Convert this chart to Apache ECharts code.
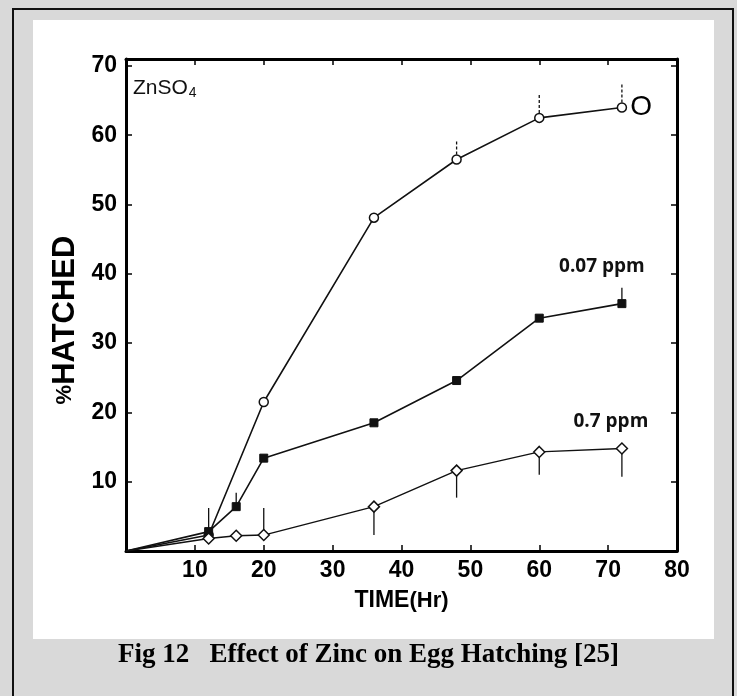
<!DOCTYPE html>
<html>
<head>
<meta charset="utf-8">
<script src="https://cdn.jsdelivr.net/npm/echarts@6/dist/echarts.min.js"></script>
<style>
  html, body { margin: 0; padding: 0; background: #d9d9d9; }
  #chart { width: 737px; height: 696px; }
</style>
</head>
<body>
<div id="chart"></div>
<script>
// hours after exposure
const timesControl = [0, 12, 20, 36, 48, 60, 72];
const timesDosed = [0, 12, 16, 20, 36, 48, 60, 72];

// % hatched
const valuesControl = [0, 2.3, 21.5, 48.1, 56.5, 62.5, 64.0];
const values007 = [0, 2.8, 6.4, 13.4, 18.5, 24.6, 33.6, 35.7];
const values07 = [0, 1.8, 2.2, 2.3, 6.4, 11.6, 14.3, 14.8];

// error bars: [time, low, high]
const errorsControlSolid = [[12, 2.3, 6.2]];
const errorsControlDotted = [[48, 56.5, 59.1], [60, 62.5, 66.1], [72, 64.0, 67.6]];
const errors007 = [[16, 6.4, 8.4], [72, 35.7, 38.0]];
const errors07 = [[20, 2.3, 6.2], [36, 2.3, 6.4], [48, 7.7, 11.6], [60, 11.0, 14.3], [72, 10.7, 14.8]];

const seriesNames = ["O", "0.07 ppm", "0.7 ppm"];

const chart = echarts.init(document.getElementById("chart"));

const AXIS_FONT = "Liberation Sans";

const toPoints = (times, values, label) =>
  times.map((t, i) => {
    const item = { value: [t, values[i]] };
    if (i === 0) item.symbol = "none";
    if (label && i === times.length - 1) item.label = label;
    return item;
  });

const errorSeries = (data, dashed) => ({
  type: "custom",
  silent: true,
  z: 1,
  data: data,
  encode: { x: 0, y: [1, 2] },
  renderItem: (params, api) => {
    const lo = api.coord([api.value(0), api.value(1)]);
    const hi = api.coord([api.value(0), api.value(2)]);
    return {
      type: "line",
      shape: { x1: lo[0], y1: lo[1], x2: hi[0], y2: hi[1] },
      style: { stroke: "#111", lineWidth: 1.3, lineDash: dashed ? [3, 2] : null },
    };
  },
});

const boxAxis = {
  min: 0,
  interval: 10,
  axisLine: { show: true, onZero: false, lineStyle: { color: "#000", width: 3 } },
  axisTick: { show: true, inside: true, length: 6, lineStyle: { color: "#000", width: 1.5 } },
  splitLine: { show: false },
};

chart.setOption({
  animation: false,
  backgroundColor: "#d9d9d9",
  graphic: [
    {
      type: "rect",
      z: -100,
      shape: { x: 13, y: 9, width: 720, height: 700 },
      style: { fill: "#d9d9d9", stroke: "#111", lineWidth: 2 },
    },
    {
      type: "rect",
      z: -90,
      shape: { x: 33, y: 20, width: 681, height: 619 },
      style: { fill: "#fff" },
    },
    {
      type: "text",
      left: 133,
      top: 78,
      style: {
        text: "ZnSO{s|4}",
        fill: "#111",
        font: "21px " + AXIS_FONT,
        rich: { s: { fontSize: 14, fontFamily: AXIS_FONT, padding: [10, 0, 0, 1] } },
      },
    },
    {
      type: "text",
      left: "center",
      top: 642,
      style: {
        text: "Fig 12   Effect of Zinc on Egg Hatching [25]",
        fill: "#000",
        font: "bold 27px 'Liberation Serif'",
      },
    },
  ],
  grid: { left: 126, right: 60, top: 59, bottom: 145 },
  xAxis: [
    {
      ...boxAxis,
      type: "value",
      max: 80,
      position: "bottom",
      name: "TIME{h|(Hr)}",
      nameLocation: "middle",
      nameGap: 38,
      nameTextStyle: {
        color: "#000",
        fontFamily: AXIS_FONT,
        fontWeight: "bold",
        fontSize: 23,
        rich: { h: { fontFamily: AXIS_FONT, fontSize: 22, color: "#000" } },
      },
      axisLabel: {
        color: "#000",
        fontFamily: AXIS_FONT,
        fontWeight: "bold",
        fontSize: 23,
        margin: 8,
        formatter: (v) => (v > 0 && v % 10 === 0 ? String(v) : ""),
      },
    },
    {
      ...boxAxis,
      type: "value",
      max: 80,
      position: "top",
      axisLabel: { show: false },
    },
  ],
  yAxis: [
    {
      ...boxAxis,
      type: "value",
      max: 71,
      position: "left",
      name: "{p|%}HATCHED",
      nameLocation: "middle",
      nameRotate: 90,
      nameGap: 44,
      nameTextStyle: {
        color: "#000",
        fontFamily: AXIS_FONT,
        fontWeight: "bold",
        fontSize: 31,
        padding: [0, 30, 0, 0],
        rich: { p: { fontFamily: AXIS_FONT, fontSize: 22, color: "#000" } },
      },
      axisLabel: {
        color: "#000",
        fontFamily: AXIS_FONT,
        fontWeight: "bold",
        fontSize: 23,
        margin: 9,
        padding: [8, 0, 0, 0],
        formatter: (v) => (v > 0 && v % 10 === 0 ? String(v) : ""),
      },
    },
    {
      ...boxAxis,
      type: "value",
      max: 71,
      position: "right",
      axisLabel: { show: false },
    },
  ],
  series: [
    errorSeries(errorsControlSolid, false),
    errorSeries(errorsControlDotted, true),
    errorSeries(errors007, false),
    errorSeries(errors07, false),
    {
      name: seriesNames[0],
      type: "line",
      z: 3,
      data: toPoints(timesControl, valuesControl, {
        show: true,
        position: "right",
        distance: 3,
        formatter: seriesNames[0],
        color: "#000",
        fontFamily: AXIS_FONT,
        fontSize: 28,
      }),
      symbol: "circle",
      symbolSize: 9,
      lineStyle: { color: "#111", width: 1.6 },
      itemStyle: { color: "#fff", borderColor: "#111", borderWidth: 1.5 },
    },
    {
      name: seriesNames[1],
      type: "line",
      z: 3,
      data: toPoints(timesDosed, values007, {
        show: true,
        position: "top",
        offset: [-20, -18],
        formatter: seriesNames[1],
        color: "#111",
        fontFamily: "Open Sans",
        fontWeight: "bold",
        fontSize: 19,
      }),
      symbol: "rect",
      symbolSize: 8,
      lineStyle: { color: "#111", width: 1.6 },
      itemStyle: { color: "#111", borderColor: "#111", borderWidth: 1 },
    },
    {
      name: seriesNames[2],
      type: "line",
      z: 3,
      data: toPoints(timesDosed, values07, {
        show: true,
        position: "top",
        offset: [-11, -6],
        formatter: seriesNames[2],
        color: "#111",
        fontFamily: "Open Sans",
        fontWeight: "bold",
        fontSize: 19,
      }),
      symbol: "diamond",
      symbolSize: 11,
      lineStyle: { color: "#111", width: 1.4 },
      itemStyle: { color: "#fff", borderColor: "#111", borderWidth: 1.5 },
    },
  ],
});
</script>
</body>
</html>
